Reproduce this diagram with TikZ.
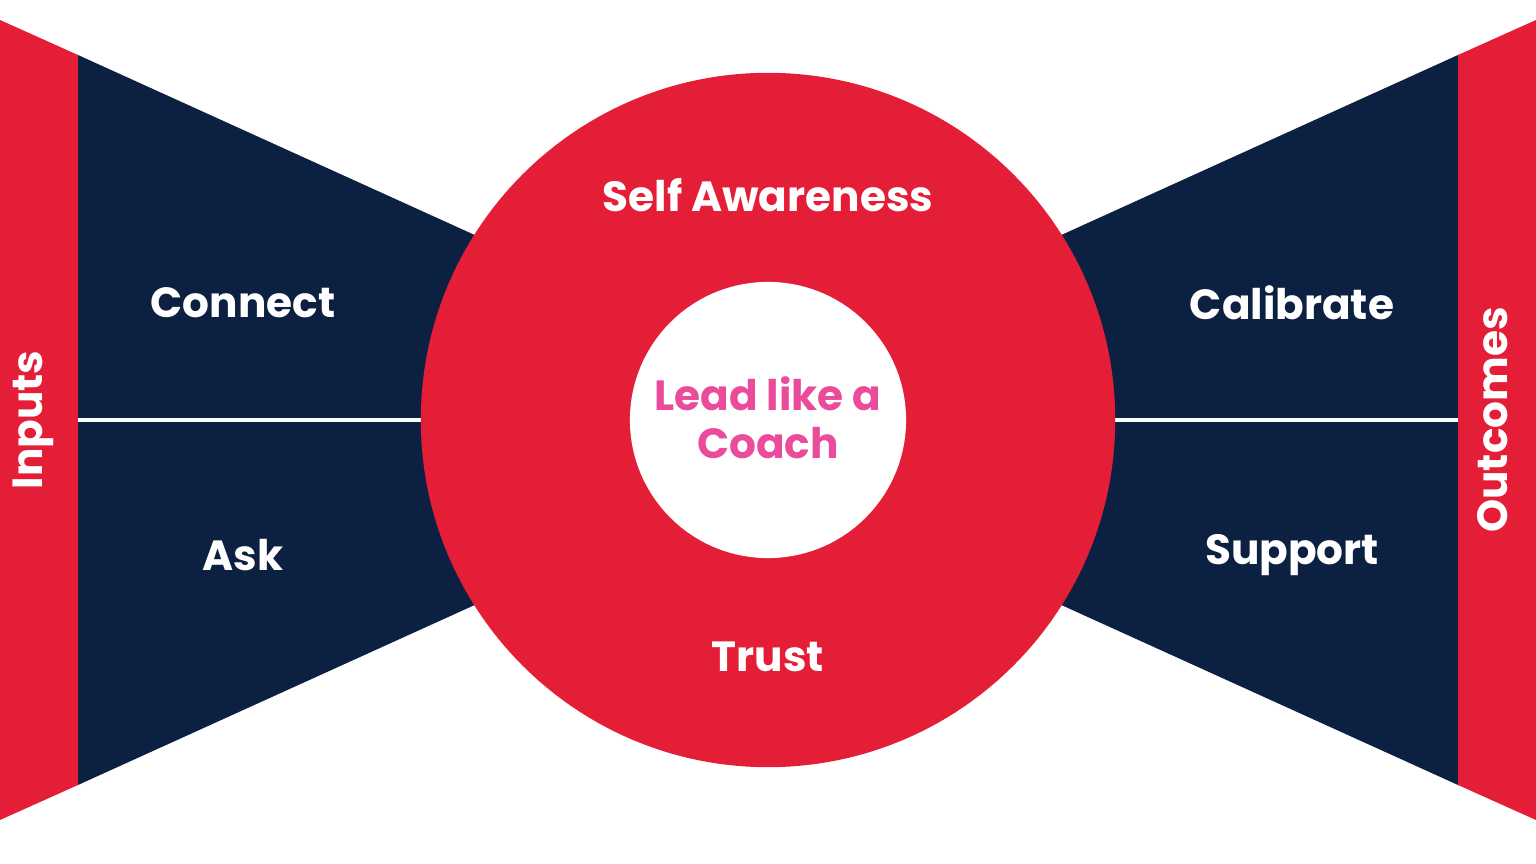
\documentclass[tikz,border=0pt]{standalone}
\usepackage{fontspec}
\setmainfont{Poppins}
\definecolor{coachred}{HTML}{E51E37}
\definecolor{coachnavy}{HTML}{0C2042}
\definecolor{coachpink}{HTML}{EA4C9B}
\tikzset{
  label text/.style={text=white, font=\fontsize{12}{14}\selectfont\bfseries},
  wing/.style={fill=coachnavy, draw=none},
  band/.style={fill=coachred, draw=none}
}
\begin{document}
\begin{tikzpicture}[x=0.01cm, y=-0.01cm]
\useasboundingbox (0,0) rectangle (1536,864);
% wings
\fill[wing] (78,55) -- (640,310) -- (640,530) -- (78,785) -- cycle;
\fill[wing] (1458,55) -- (896,310) -- (896,530) -- (1458,785) -- cycle;
% side bands
\fill[band] (0,20) -- (78,55) -- (78,785) -- (0,820) -- cycle;
\fill[band] (1536,20) -- (1458,55) -- (1458,785) -- (1536,820) -- cycle;
\draw[white, line width=1.4pt] (78,420) -- (430,420);
\draw[white, line width=1.4pt] (1106,420) -- (1458,420);
% rings
\node[circle, fill=coachred, minimum size=6.94cm, inner sep=0pt] (ring) at (768,420) {};
\node[circle, fill=white, minimum size=2.76cm, inner sep=0pt] (core) at (768,420) {};
\node[text=coachpink, font=\fontsize{12}{13.5}\selectfont\bfseries, align=center] (lead) at (768,418) {Lead like a\\Coach};
\node[label text] (self) at (768,195) {Self Awareness};
\node[label text] (trust) at (768,657) {Trust};
\node[label text] (connect) at (243,303) {Connect};
\node[label text] (ask) at (243,555) {Ask};
\node[label text] (calibrate) at (1292,303) {Calibrate};
\node[label text] (support) at (1292,555) {Support};
\node[label text, rotate=90] (inputs) at (33,420) {Inputs};
\node[label text, rotate=90] (outcomes) at (1493,420) {Outcomes};
\end{tikzpicture}
\end{document}
